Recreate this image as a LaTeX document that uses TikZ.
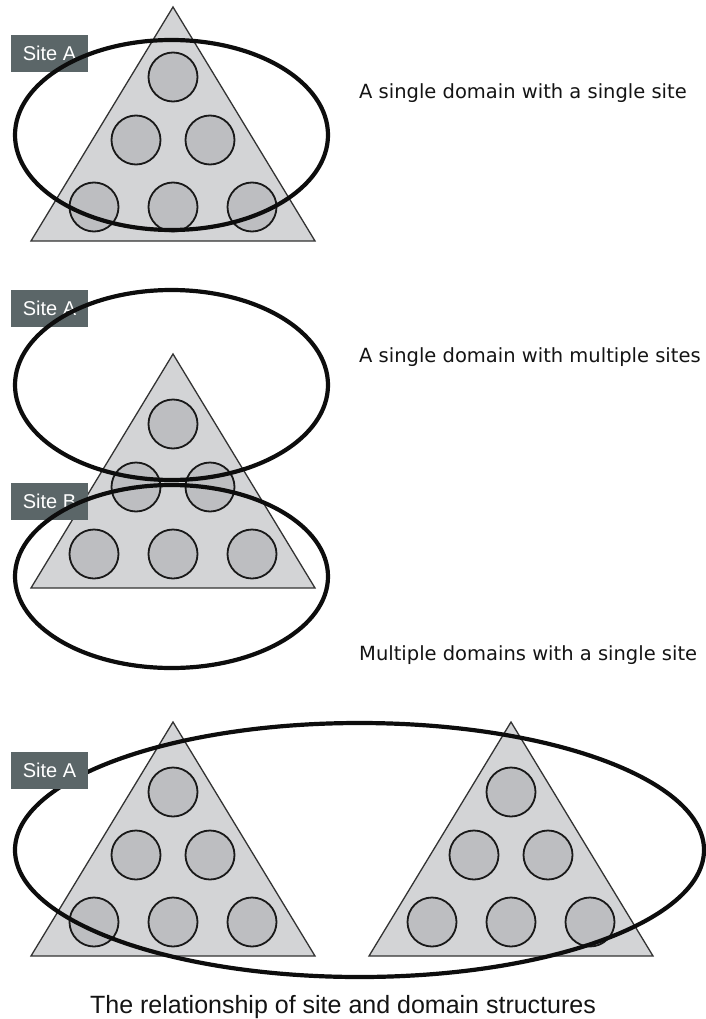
\documentclass[tikz,border=0pt]{standalone}
\usepackage{fontspec}
\setmainfont{Liberation Sans}
\newfontfamily\notefont{DejaVu Sans}

\definecolor{tagfill}{HTML}{5B6668}
\definecolor{trifill}{HTML}{D3D4D6}
\definecolor{dotfill}{HTML}{BDBEC1}

% one domain: triangle with six member circles, apex at (#1,#2)
\newcommand{\domaintri}[2]{%
  \draw[trishape] (#1,#2) -- ++(-142,234) -- ++(284,0) -- cycle;
  \foreach \dx/\dy in {0/70,-37/133,37/133,-79/200,0/200,79/200}
    \draw[dcircle] ({#1+\dx},{#2+\dy}) circle (24.5);
}

\begin{document}
\begin{tikzpicture}[x=1pt, y=-1pt,
    trishape/.style={fill=trifill, draw=black!80, line width=1.3pt, line join=miter},
    dcircle/.style={fill=dotfill, draw=black!90, line width=1.8pt},
    siteoval/.style={draw=black!95, line width=4.2pt},
    sitetag/.style={fill=tagfill, text=white, inner sep=0pt, minimum width=77pt,
        minimum height=37pt, font=\fontsize{20}{24}\selectfont},
    note/.style={anchor=base west, inner sep=0pt, text=black!92,
        font=\notefont\fontsize{19.5}{23}\selectfont},
    capt/.style={anchor=base, inner sep=0pt, text=black!92,
        font=\fontsize{25}{30}\selectfont}]
    \fill[white] (0,0) rectangle (705,1019);
    \useasboundingbox (0,0) rectangle (705,1019);

    % Single domain, single site
    \domaintri{173}{7}
    \node[sitetag] (tagone) at (49.5,53.5) {Site A};
    \draw[siteoval] (171.5,135) ellipse (156.5 and 95);
    \node[note] (noteone) at (359,99) {A single domain with a single site};

    % Single domain, two sites
    \domaintri{173}{354}
    \node[sitetag] (tagtwoa) at (49.5,308.5) {Site A};
    \node[sitetag] (tagtwob) at (49.5,501.5) {Site B};
    \draw[siteoval] (171.5,385) ellipse (156.5 and 95);
    \draw[siteoval] (171.5,576.5) ellipse (156.5 and 91.5);
    \node[note] (notetwo) at (359,362) {A single domain with multiple sites};

    % Two domains, one site
    \domaintri{173}{722}
    \domaintri{511}{722}
    \draw[siteoval] (359.5,850) ellipse (344.5 and 127);
    \node[sitetag] (tagthree) at (49.5,770) {Site A};
    \node[note] (notethree) at (359,660) {Multiple domains with a single site};

    % Caption
    \node[capt] (caption) at (343,1013) {The relationship of site and domain structures};
\end{tikzpicture}
\end{document}
